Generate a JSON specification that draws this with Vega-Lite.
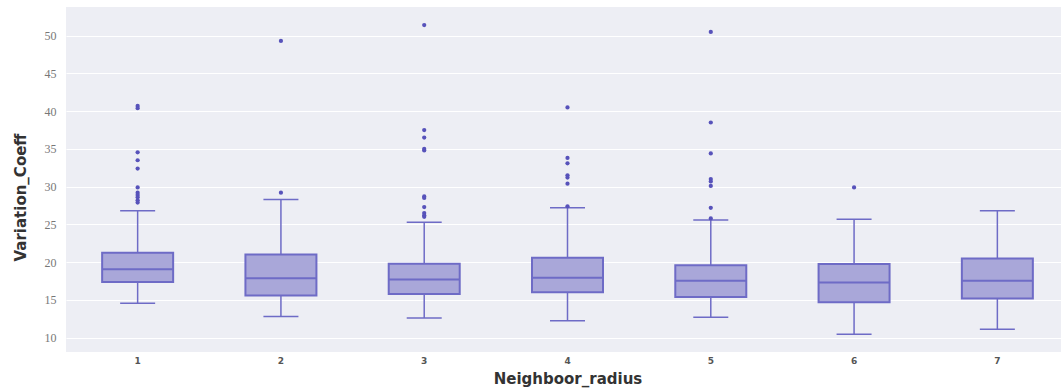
{
  "$schema": "https://vega.github.io/schema/vega-lite/v6.json",
  "width": 1003,
  "height": 345,
  "autosize": {"type": "none"},
  "padding": {"left": 66, "top": 7, "right": 0, "bottom": 40},
  "background": "white",
  "config": {
    "view": {"fill": "#EDEEF4", "stroke": null},
    "axis": {"domain": false, "ticks": false}
  },
  "datasets": {
    "boxes": [
      {"r": 1, "lo": 14.55, "q1": 17.38, "med": 19.06, "q3": 21.26, "hi": 26.8},
      {"r": 2, "lo": 12.8, "q1": 15.6, "med": 17.87, "q3": 21.0, "hi": 28.3},
      {"r": 3, "lo": 12.6, "q1": 15.77, "med": 17.7, "q3": 19.8, "hi": 25.3},
      {"r": 4, "lo": 12.25, "q1": 16.0, "med": 17.95, "q3": 20.6, "hi": 27.2},
      {"r": 5, "lo": 12.7, "q1": 15.4, "med": 17.55, "q3": 19.6, "hi": 25.6},
      {"r": 6, "lo": 10.45, "q1": 14.7, "med": 17.3, "q3": 19.76, "hi": 25.7},
      {"r": 7, "lo": 11.1, "q1": 15.2, "med": 17.55, "q3": 20.5, "hi": 26.8}
    ],
    "outliers": [
      {"r": 1, "v": 40.7}, {"r": 1, "v": 40.4}, {"r": 1, "v": 34.55}, {"r": 1, "v": 33.5},
      {"r": 1, "v": 32.4}, {"r": 1, "v": 29.9}, {"r": 1, "v": 29.2}, {"r": 1, "v": 28.9},
      {"r": 1, "v": 28.6}, {"r": 1, "v": 28.2}, {"r": 1, "v": 27.9},
      {"r": 2, "v": 49.3}, {"r": 2, "v": 29.2},
      {"r": 3, "v": 51.4}, {"r": 3, "v": 37.5}, {"r": 3, "v": 36.5}, {"r": 3, "v": 35.0},
      {"r": 3, "v": 34.8}, {"r": 3, "v": 28.7}, {"r": 3, "v": 28.5}, {"r": 3, "v": 27.3},
      {"r": 3, "v": 26.5}, {"r": 3, "v": 26.2}, {"r": 3, "v": 26.0},
      {"r": 4, "v": 40.5}, {"r": 4, "v": 33.8}, {"r": 4, "v": 33.1}, {"r": 4, "v": 31.5},
      {"r": 4, "v": 31.2}, {"r": 4, "v": 30.4}, {"r": 4, "v": 27.4},
      {"r": 5, "v": 50.5}, {"r": 5, "v": 38.5}, {"r": 5, "v": 34.4}, {"r": 5, "v": 31.0},
      {"r": 5, "v": 30.7}, {"r": 5, "v": 30.1}, {"r": 5, "v": 27.2}, {"r": 5, "v": 25.8},
      {"r": 6, "v": 29.9}
    ]
  },
  "layer": [
    {
      "data": {"name": "boxes"},
      "mark": {"type": "rule", "color": "#6E6BC6", "strokeWidth": 1.5},
      "encoding": {
        "x": {"field": "r", "type": "ordinal", "scale": {"domain": [1,2,3,4,5,6,7]},
          "axis": {"title": "Neighboor_radius", "labelAngle": 0, "labelFont": "DejaVu Sans", "labelFontSize": 9, "labelFontWeight": "bold", "labelColor": "#555555", "labelPadding": 4,
            "titleFont": "DejaVu Sans", "titleFontSize": 15, "titleFontWeight": "bold", "titleColor": "#333333", "titlePadding": 6}},
        "y": {"field": "lo", "type": "quantitative", "scale": {"domain": [8.1, 53.8], "nice": false, "zero": false},
          "axis": {"title": "Variation_Coeff", "values": [10,15,20,25,30,35,40,45,50], "grid": true, "gridColor": "#FFFFFF", "gridWidth": 1.2,
            "labelFont": "Liberation Serif", "labelFontSize": 12, "labelColor": "#777777", "labelPadding": 10,
            "titleFont": "DejaVu Sans", "titleFontSize": 15, "titleFontWeight": "bold", "titleColor": "#333333", "titlePadding": 16, "titleY": 190}},
        "y2": {"field": "hi"}
      }
    },
    {
      "data": {"name": "boxes"},
      "mark": {"type": "bar", "size": 71, "fill": "#A9A7D9", "stroke": "#6E6BC6", "strokeWidth": 2},
      "encoding": {
        "x": {"field": "r", "type": "ordinal"},
        "y": {"field": "q1", "type": "quantitative"},
        "y2": {"field": "q3"}
      }
    },
    {
      "data": {"name": "boxes"},
      "mark": {"type": "tick", "size": 71, "thickness": 2, "color": "#6E6BC6", "opacity": 1},
      "encoding": {
        "x": {"field": "r", "type": "ordinal"},
        "y": {"field": "med", "type": "quantitative"}
      }
    },
    {
      "data": {"name": "boxes"},
      "mark": {"type": "tick", "size": 35, "thickness": 1.5, "color": "#6E6BC6", "opacity": 1},
      "encoding": {
        "x": {"field": "r", "type": "ordinal"},
        "y": {"field": "lo", "type": "quantitative"}
      }
    },
    {
      "data": {"name": "boxes"},
      "mark": {"type": "tick", "size": 35, "thickness": 1.5, "color": "#6E6BC6", "opacity": 1},
      "encoding": {
        "x": {"field": "r", "type": "ordinal"},
        "y": {"field": "hi", "type": "quantitative"}
      }
    },
    {
      "data": {"name": "outliers"},
      "mark": {"type": "circle", "size": 18, "color": "#5752BA", "opacity": 1},
      "encoding": {
        "x": {"field": "r", "type": "ordinal"},
        "y": {"field": "v", "type": "quantitative"}
      }
    }
  ]
}
